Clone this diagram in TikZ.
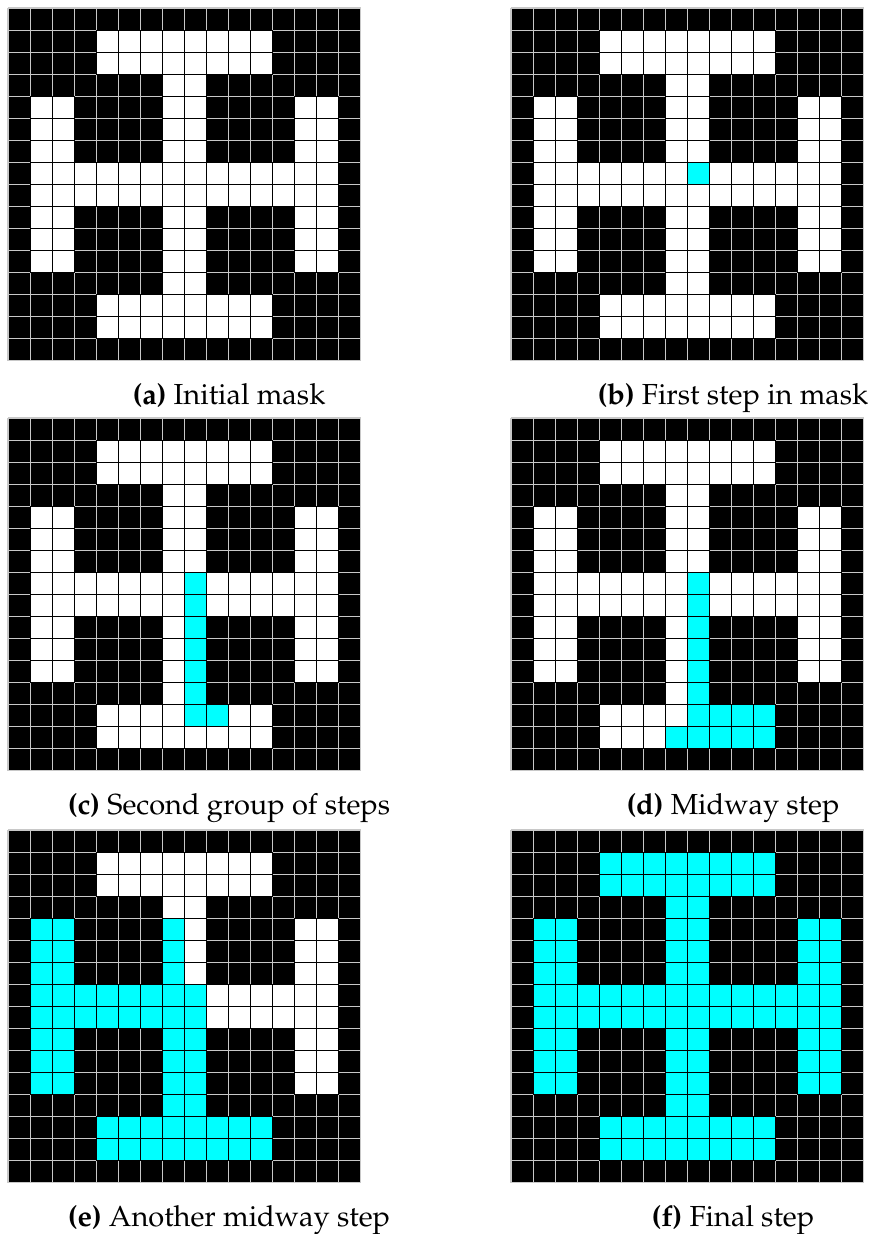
\documentclass[tikz,border=0pt]{standalone}
\usepackage[T1]{fontenc}
\usepackage{mathpazo}
\definecolor{cyn}{RGB}{0,255,255}
\definecolor{gridgray}{RGB}{200,200,200}
\newcommand\cs{22.05}
\newcommand\blk[5]{%
  \foreach \r in {#2,...,#3}{\foreach \c in {#4,...,#5}{%
    \path[#1] (\c*\cs,\r*\cs) rectangle ++(\cs,\cs);}}}
\newcommand\maskcells[1]{%
  \blk{#1}{1}{2}{4}{11}
  \blk{#1}{3}{3}{7}{8}
  \blk{#1}{4}{6}{1}{2}\blk{#1}{4}{6}{7}{8}\blk{#1}{4}{6}{13}{14}
  \blk{#1}{7}{8}{1}{14}
  \blk{#1}{9}{11}{1}{2}\blk{#1}{9}{11}{7}{8}\blk{#1}{9}{11}{13}{14}
  \blk{#1}{12}{12}{7}{8}
  \blk{#1}{13}{14}{4}{11}}
\newcommand\blackgrid{%
  \fill[black] (0,0) rectangle (16*\cs,16*\cs);
  \foreach \i in {0,...,16}{%
    \draw[gridline] (\i*\cs,0) -- (\i*\cs,16*\cs);
    \draw[gridline] (0,\i*\cs) -- (16*\cs,\i*\cs);}}
\tikzset{
  gridline/.style={draw=gridgray, line width=1.1pt},
  whitecell/.style={fill=white, draw=black, line width=1pt},
  cyancell/.style={fill=cyn, draw=black, line width=1pt},
  caption/.style={anchor=base, inner sep=0pt, font=\fontsize{29}{35}\selectfont}
}
\begin{document}
\begin{tikzpicture}[x=1pt,y=-1pt]
\useasboundingbox[fill=white] (0,0) rectangle (872,1234);
% (a)
\begin{scope}[shift={(8,8)}]
  \blackgrid
  \maskcells{whitecell}
\end{scope}
\node[caption] (capa) at (229,404) {\textbf{(a)} Initial mask};
% (b)
\begin{scope}[shift={(511,8)}]
  \blackgrid
  \maskcells{whitecell}
  \blk{cyancell}{7}{7}{8}{8}
\end{scope}
\node[caption] (capb) at (733,404) {\textbf{(b)} First step in mask};
% (c)
\begin{scope}[shift={(8,418)}]
  \blackgrid
  \maskcells{whitecell}
  \blk{cyancell}{7}{13}{8}{8}
  \blk{cyancell}{13}{13}{9}{9}
\end{scope}
\node[caption] (capc) at (229,814) {\textbf{(c)} Second group of steps};
% (d)
\begin{scope}[shift={(511,418)}]
  \blackgrid
  \maskcells{whitecell}
  \blk{cyancell}{7}{13}{8}{8}
  \blk{cyancell}{13}{13}{8}{11}
  \blk{cyancell}{14}{14}{7}{11}
\end{scope}
\node[caption] (capd) at (733,814) {\textbf{(d)} Midway step};
% (e)
\begin{scope}[shift={(8,830)}]
  \blackgrid
  \maskcells{whitecell}
  \blk{cyancell}{4}{6}{1}{2}
  \blk{cyancell}{4}{6}{7}{7}
  \blk{cyancell}{7}{8}{1}{8}
  \blk{cyancell}{9}{11}{1}{2}
  \blk{cyancell}{9}{11}{7}{8}
  \blk{cyancell}{12}{12}{7}{8}
  \blk{cyancell}{13}{14}{4}{11}
\end{scope}
\node[caption] (cape) at (229,1226) {\textbf{(e)} Another midway step};
% (f)
\begin{scope}[shift={(511,830)}]
  \blackgrid
  \maskcells{cyancell}
\end{scope}
\node[caption] (capf) at (733,1226) {\textbf{(f)} Final step};
\end{tikzpicture}
\end{document}
